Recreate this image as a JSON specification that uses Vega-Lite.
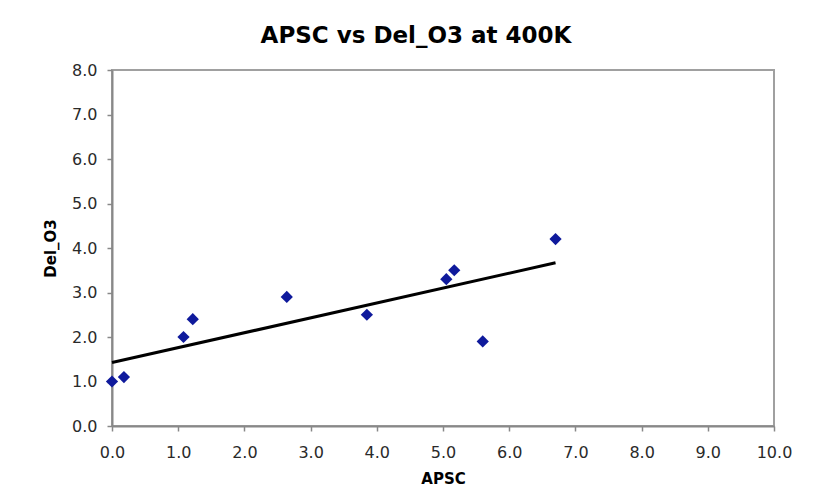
{
  "$schema": "https://vega.github.io/schema/vega-lite/v6.json",
  "width": 662,
  "height": 356,
  "autosize": {"type": "none"},
  "padding": {"left": 112, "top": 70, "right": 40, "bottom": 75},
  "background": "white",
  "title": {
    "text": "APSC vs Del_O3 at 400K",
    "font": "DejaVu Sans",
    "fontSize": 23,
    "fontWeight": "bold",
    "color": "#000000",
    "anchor": "middle",
    "dx": -27,
    "offset": 14
  },
  "config": {
    "view": {"stroke": "#a0a0a0", "strokeWidth": 2},
    "axis": {
      "labelFont": "DejaVu Sans",
      "labelFontSize": 16,
      "labelColor": "#2a2a2a",
      "labelFlush": false,
      "labelOverlap": false,
      "titleFont": "DejaVu Sans",
      "titleFontSize": 15,
      "titleFontWeight": "bold",
      "titleColor": "#000000",
      "grid": false,
      "domainColor": "#888888",
      "domainWidth": 2,
      "tickColor": "#888888",
      "tickSize": 5,
      "tickWidth": 1.5
    }
  },
  "data": {
    "values": [
      {"APSC": 0.0, "Del_O3": 1.0},
      {"APSC": 0.18, "Del_O3": 1.1},
      {"APSC": 1.08, "Del_O3": 2.0},
      {"APSC": 1.22, "Del_O3": 2.4},
      {"APSC": 2.64, "Del_O3": 2.9},
      {"APSC": 3.85, "Del_O3": 2.5},
      {"APSC": 5.05, "Del_O3": 3.3},
      {"APSC": 5.17, "Del_O3": 3.5},
      {"APSC": 5.6, "Del_O3": 1.9},
      {"APSC": 6.7, "Del_O3": 4.2}
    ]
  },
  "encoding": {
    "x": {
      "field": "APSC",
      "type": "quantitative",
      "scale": {"domain": [0, 10], "nice": false, "zero": false},
      "axis": {"title": "APSC", "format": ".1f", "values": [0,1,2,3,4,5,6,7,8,9,10], "labelPadding": 13, "titlePadding": 11}
    },
    "y": {
      "field": "Del_O3",
      "type": "quantitative",
      "scale": {"domain": [0, 8], "nice": false, "zero": false},
      "axis": {"title": "Del_O3", "format": ".1f", "values": [0,1,2,3,4,5,6,7,8], "labelPadding": 10, "titlePadding": 13}
    }
  },
  "layer": [
    {
      "transform": [{"regression": "Del_O3", "on": "APSC"}],
      "mark": {"type": "line", "color": "#000000", "strokeWidth": 3}
    },
    {
      "mark": {"type": "point", "shape": "diamond", "filled": true, "color": "#0f1a9c", "size": 150, "opacity": 1}
    }
  ]
}
